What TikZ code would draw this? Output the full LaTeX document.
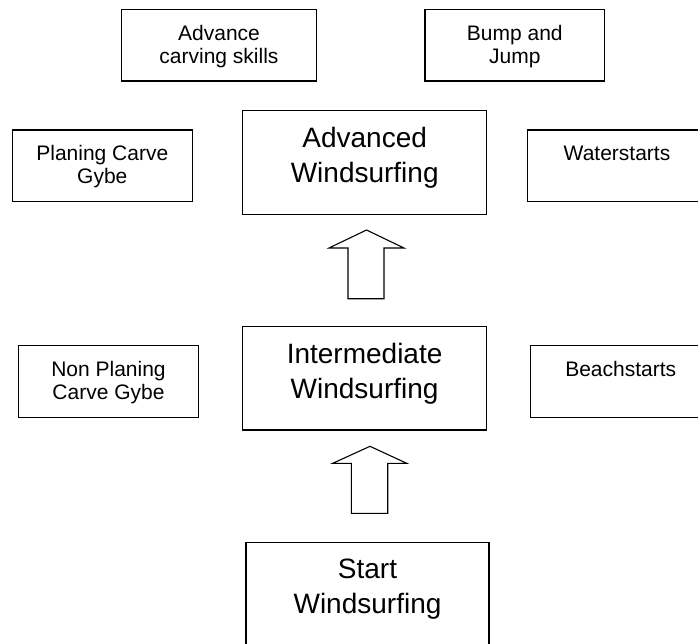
\documentclass[tikz,border=0pt]{standalone}
\usepackage{fontspec}
\setmainfont{Liberation Sans}
\begin{document}
\begin{tikzpicture}[x=1pt,y=-1pt,
  box/.style={draw=black, line width=1.1pt, rectangle, inner sep=0pt, outer sep=0pt, anchor=north west},
  smalltxt/.style={font=\fontsize{21}{23.3}\selectfont, align=center, inner sep=0pt, anchor=north},
  bigtxt/.style={font=\fontsize{28}{34.8}\selectfont, align=center, inner sep=0pt, anchor=north},
  blockarrow/.style={draw=black, line width=1.1pt, fill=white, line join=miter}]
\useasboundingbox (0,0) rectangle (698,643);
\clip (0,0) rectangle (698,643);
\fill[white] (0,0) rectangle (698,643);

% top row
\node[box, minimum width=195.4pt, minimum height=71.7pt] (acs) at (121.3,9.3) {};
\node[smalltxt] (acsT) at (219,18) {\rule{0pt}{22pt}Advance\\carving skills};
\node[box, minimum width=179.7pt, minimum height=71.7pt] (bj) at (425,9.3) {};
\node[smalltxt] (bjT) at (514.8,18) {\rule{0pt}{22pt}Bump and\\Jump};

% advanced row
\node[box, minimum width=180pt, minimum height=71.5pt] (pcg) at (12.3,130) {};
\node[smalltxt] (pcgT) at (102.3,138) {\rule{0pt}{22pt}Planing Carve\\Gybe};
\node[box, minimum width=244pt, minimum height=103.6pt] (adv) at (242.7,110.7) {};
\node[bigtxt] (advT) at (364.7,119.7) {\rule{0pt}{28pt}Advanced\\Windsurfing};
\node[box, minimum width=178pt, minimum height=71.5pt] (ws) at (527.8,130) {};
\node[smalltxt] (wsT) at (617,138) {\rule{0pt}{22pt}Waterstarts};

% intermediate row
\node[box, minimum width=180.3pt, minimum height=72pt] (npcg) at (18.3,345.3) {};
\node[smalltxt] (npcgT) at (108.5,354.3) {\rule{0pt}{22pt}Non Planing\\Carve Gybe};
\node[box, minimum width=244pt, minimum height=103.3pt] (int) at (242.6,326.7) {};
\node[bigtxt] (intT) at (364.6,335.2) {\rule{0pt}{28pt}Intermediate\\Windsurfing};
\node[box, minimum width=180pt, minimum height=72pt] (bs) at (530.7,345.3) {};
\node[smalltxt] (bsT) at (620.7,354.3) {\rule{0pt}{22pt}Beachstarts};

% start
\node[box, minimum width=243pt, minimum height=104pt] (start) at (246,542.3) {};
\node[bigtxt] (startT) at (367.5,550.2) {\rule{0pt}{28pt}Start\\Windsurfing};

% block arrows
\coordinate (a1tip) at (366.5,230);
\draw[blockarrow] (a1tip) -- (404,248) -- (384,248) -- (384,298.7) -- (348,298.7) -- (348,248) -- (329,248) -- cycle;
\coordinate (a2tip) at (370,446.3);
\draw[blockarrow] (a2tip) -- (406.7,463.3) -- (387.7,463.3) -- (387.7,513.3) -- (351.3,513.3) -- (351.3,463.3) -- (332.7,463.3) -- cycle;
\end{tikzpicture}
\end{document}
